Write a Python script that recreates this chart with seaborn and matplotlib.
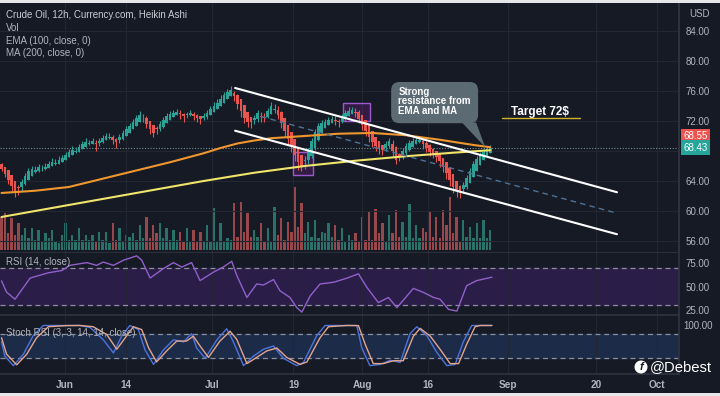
import numpy as np
import pandas as pd
import seaborn as sns
import matplotlib
matplotlib.use("Agg")
import matplotlib.pyplot as plt
from matplotlib.patches import FancyBboxPatch, Polygon, Rectangle, Ellipse
from matplotlib.transforms import blended_transform_factory

# ---------------- data ----------------
ha_close = [65.6, 64.9, 64.1, 63.3, 62.5, 63.1, 63.9, 64.7, 65.3, 65.6,
            65.4, 65.8, 65.6, 65.9, 66.3, 66.5, 66.4, 66.8, 67.0, 67.5,
            67.9, 68.1, 68.0, 68.5, 68.9, 69.2, 69.0, 69.3, 68.9, 69.3,
            69.7, 70.0, 69.9, 69.5, 69.2, 69.8, 70.4, 70.9, 71.3, 71.9,
            72.4, 72.8, 72.4, 71.6, 70.9, 70.4, 70.9, 71.6, 72.1, 72.6,
            72.9, 73.1, 73.2, 72.9, 72.6, 72.8, 73.0, 72.7, 72.4, 72.2,
            72.6, 73.1, 73.6, 74.0, 74.4, 74.9, 75.4, 75.8, 76.1, 75.3,
            74.3, 73.3, 72.4, 71.9, 71.8, 72.4, 73.0, 72.5, 72.4, 73.3,
            74.0, 73.6, 72.8, 71.7, 70.6, 69.6, 68.6, 67.5, 66.5, 65.9,
            66.8, 68.0, 69.3, 70.5, 71.3, 71.7, 71.9, 72.1, 72.3, 72.0,
            71.8, 72.5, 73.0, 73.3, 73.5, 73.1, 72.3, 71.5, 70.7, 69.9,
            69.2, 68.6, 68.2, 68.1, 68.9, 69.3, 68.0, 66.8, 67.3, 68.0,
            68.6, 69.0, 69.3, 69.4, 69.5, 68.9, 68.4, 67.9, 67.6, 67.2,
            66.6, 65.9, 65.0, 64.1, 63.2, 62.6, 62.4, 63.5, 64.4, 65.3,
            66.2, 66.9, 67.5, 67.9, 68.2, 68.43]
ha_high = [66.4, 65.9, 65.2, 64.4, 63.6, 63.4, 64.2, 65.1, 65.7, 66.0,
           66.0, 66.3, 66.1, 66.4, 66.7, 67.0, 66.9, 67.3, 67.4, 67.9,
           68.3, 68.6, 68.5, 68.9, 69.3, 69.7, 69.5, 69.7, 69.4, 69.7,
           70.1, 70.4, 70.4, 70.1, 69.7, 70.2, 70.8, 71.3, 71.7, 72.3,
           72.8, 73.3, 72.9, 72.6, 72.0, 71.4, 71.3, 72.0, 72.5, 73.0,
           73.3, 73.5, 73.6, 73.4, 73.1, 73.2, 73.4, 73.2, 72.9, 72.7,
           73.0, 73.5, 74.0, 74.5, 74.9, 75.4, 75.9, 76.2, 76.6, 76.0,
           75.6, 74.8, 73.9, 73.0, 72.5, 72.8, 73.4, 73.2, 73.0, 73.7,
           74.5, 74.2, 74.0, 73.3, 72.3, 71.2, 70.2, 69.2, 68.1, 67.1,
           67.3, 68.4, 69.7, 70.9, 71.7, 72.1, 72.3, 72.5, 72.7, 72.6,
           72.3, 72.9, 73.4, 73.8, 73.9, 73.7, 73.4, 72.8, 72.0, 71.2,
           70.4, 69.8, 69.2, 68.8, 69.3, 69.7, 69.4, 68.6, 67.7, 68.4,
           69.0, 69.4, 69.7, 69.8, 69.9, 69.6, 69.3, 68.9, 68.4, 68.0,
           67.6, 67.1, 66.5, 65.8, 64.9, 64.0, 63.4, 63.9, 64.8, 65.7,
           66.6, 67.3, 67.9, 68.3, 68.6, 68.8]
ha_low = [65.3, 64.5, 63.6, 62.7, 61.9, 62.1, 62.7, 63.4, 64.2, 64.9,
          65.0, 65.2, 65.3, 65.4, 65.7, 66.0, 66.1, 66.3, 66.5, 66.8,
          67.2, 67.6, 67.7, 67.9, 68.2, 68.6, 68.8, 68.9, 68.0, 68.7,
          69.0, 69.4, 69.6, 68.9, 68.4, 69.1, 69.4, 70.0, 70.6, 71.0,
          71.5, 72.0, 71.9, 71.0, 70.2, 69.8, 70.3, 70.6, 71.1, 71.7,
          72.2, 72.6, 72.8, 72.3, 71.9, 72.4, 72.6, 72.1, 71.8, 71.6,
          72.1, 72.3, 72.8, 73.3, 73.7, 74.1, 74.6, 75.1, 75.5, 74.7,
          73.6, 72.5, 71.7, 71.2, 71.1, 71.6, 71.9, 71.9, 71.8, 72.4,
          72.9, 73.0, 72.2, 71.0, 69.9, 68.9, 67.8, 66.6, 65.5, 65.3,
          65.6, 66.2, 67.0, 68.1, 69.3, 70.4, 71.1, 71.5, 71.8, 71.5,
          71.2, 71.7, 72.0, 72.6, 73.0, 72.5, 71.7, 70.8, 70.0, 69.2,
          68.5, 68.0, 67.6, 67.5, 68.0, 68.4, 67.2, 66.2, 66.6, 66.9,
          67.4, 68.0, 68.6, 69.0, 69.1, 68.3, 67.8, 67.3, 67.0, 66.5,
          65.9, 65.2, 64.2, 63.3, 62.4, 61.8, 61.7, 62.4, 62.9, 63.9,
          64.8, 65.7, 66.5, 67.2, 67.7, 68.0]
first_open = 66.2
volume = [33, 37, 17, 32, 15, 27, 15, 22, 12, 22,
          10, 20, 8, 17, 12, 20, 8, 7, 15, 27,
          10, 15, 10, 22, 10, 15, 10, 15, 8, 18,
          10, 18, 7, 27, 10, 22, 8, 15, 13, 17,
          10, 25, 12, 33, 12, 25, 17, 27, 12, 22,
          10, 20, 10, 18, 8, 22, 8, 20, 8, 18,
          8, 25, 8, 42, 8, 27, 8, 12, 10, 47,
          13, 48, 18, 37, 13, 20, 13, 27, 8, 22,
          8, 43, 15, 32, 10, 28, 18, 63, 23, 47,
          17, 28, 13, 30, 12, 18, 17, 27, 13, 25,
          10, 22, 8, 15, 10, 17, 8, 33, 10, 38,
          10, 41, 17, 27, 8, 35, 17, 40, 13, 28,
          13, 46, 12, 25, 12, 22, 18, 38, 13, 33,
          12, 40, 25, 53, 17, 33, 8, 30, 13, 23,
          12, 27, 12, 30, 12, 20]

ema_x = [0, 10, 20, 30, 40, 50, 55, 60, 65, 70, 75, 80, 90, 100, 110, 120, 130, 140, 145]
ema_y = [62.4, 62.7, 63.2, 64.3, 65.4, 66.5, 67.1, 67.7, 68.4, 69.0, 69.4, 69.7, 70.0, 70.3,
         70.4, 70.1, 69.5, 68.8, 68.5]
ma_x = [0, 15, 30, 45, 60, 75, 90, 105, 120, 135, 145]
ma_y = [59.2, 60.4, 61.6, 62.8, 64.0, 65.1, 66.0, 66.7, 67.3, 67.8, 68.1]

rsi_x = [0, 1.5, 4, 6.5, 8.5, 11.4, 13.9, 17.9, 20.3, 25.3, 28.2, 30.2, 33.2, 36.2, 40.1, 41.6,
         44.1, 48, 51, 53.5, 56.4, 58.9, 62.9, 65.8, 68.3, 69.8, 72.8, 75.7, 77.7, 80.7, 82.6,
         85.6, 87.6, 89.1, 91.6, 94.5, 98.5, 102.4, 105.9, 108.4, 111.8, 114.8, 117.3, 122.2,
         125.2, 128.2, 130.1, 132.6, 135.1, 138, 141, 145.5]
rsi_y = [56, 44, 36.5, 49, 59, 62, 64.6, 67, 72.5, 75.4, 72.5, 76, 72.5, 78, 82.6, 78,
         59, 69, 75.4, 70.7, 75.4, 56.3, 65.3, 70.7, 76.8, 61.7, 38.3, 52.7, 51.6, 57.4, 45.5,
         38.3, 27.5, 22.8, 40.1, 52.7, 54.5, 58.8, 63.5, 49.1, 32.9, 38.3, 27.5, 48,
         43.7, 38.3, 36.5, 25.7, 23.9, 50.9, 56.3, 59.9]

k_x = [0, 1.0, 3.5, 6.5, 9.4, 12.4, 19.3, 23.3, 26.3, 30.2, 33.2, 35.7, 38.1, 40.6, 42.6, 45.1,
       48.0, 51.0, 54.0, 56.4, 57.9, 60.4, 63.9, 66.8, 68.8, 71.8, 74.7, 77.7, 80.7, 83.6, 87.6,
       89.6, 93.5, 96.0, 105.4, 106.9, 109.3, 112.3, 115.3, 118.3, 121.2, 123.2, 126.2, 129.1,
       132.1, 134.6, 137.0, 139.5, 145.5]
k_y = [60, 25, 2, 30, 75, 100, 100, 100, 95, 65, 33, 75, 100, 90, 40, 5,
       40, 65, 60, 80, 45, 20, 65, 92, 60, 2, 25, 42, 50, 20, 2,
       10, 75, 100, 100, 45, 2, 5, 15, 10, 80, 97, 75, 35,
       2, 5, 60, 100, 100]
d_x = [0, 1.5, 4.5, 7.5, 10.4, 13.9, 19.3, 23.3, 27.2, 31.2, 34.2, 36.7, 39.1, 41.6, 43.6, 46.0,
       49.0, 52.0, 54.9, 56.9, 58.9, 61.4, 64.8, 67.8, 69.8, 72.8, 75.7, 78.7, 81.7, 84.6, 88.6,
       90.6, 94.5, 97.0, 102.4, 105.9, 107.9, 110.3, 113.3, 116.3, 119.2, 122.2, 124.2, 127.2,
       130.1, 133.1, 135.6, 138.0, 140.5, 142.0, 145.5]
d_y = [70, 30, 4, 30, 70, 97, 99.7, 100, 97, 78, 42, 70, 97, 90, 46, 11,
       38, 62, 62, 74, 50, 22, 62, 86, 66, 7, 22, 38, 45, 22, 5,
       11, 70, 97, 100, 99.7, 54, 7, 7, 14, 14, 74, 93, 74,
       42, 7, 7, 54, 97, 100, 100]

chan_x = [69.3, 182.6]
chan_upper = [76.4, 62.5]
chan_lower = [70.7, 56.9]
mid_x = [77.0, 182.6]
mid_y = [72.6, 59.7]
box1 = (86.5, 64.8, 92.4, 67.9)
box2 = (101.3, 72.0, 109.3, 74.4)
last_close = 68.43
last_price = 68.55
target_price = 72.4

date_ticks = [18.7, 36.8, 62.4, 86.6, 107.0, 126.4, 150.4, 176.5, 194.5]
date_labels = ["Jun", "14", "Jul", "19", "Aug", "16", "Sep", "20", "Oct"]
price_ticks = [56, 60, 64, 68, 72, 76, 80, 84]
price_labels = ["56.00", "60.00", "64.00", "", "72.00", "76.00", "80.00", "84.00"]

# ---------------- style ----------------
BG = "#161a25"
GRID = "#232733"
SEP = "#2f3340"
TXT = "#b2b5be"
TEAL = "#26a69a"
RED = "#ef5350"

sns.set_theme(style="dark", rc={"axes.facecolor": BG, "figure.facecolor": BG,
                                "axes.edgecolor": SEP, "text.color": TXT,
                                "xtick.color": TXT, "ytick.color": TXT})
plt.rcParams["font.family"] = ["Liberation Sans", "DejaVu Sans"]

W, H = 720, 396
fig = plt.figure(figsize=(7.2, 3.96), dpi=100, facecolor=BG)


def rect(top, bottom, left=0, right=679):
    return [left / W, 1 - bottom / H, (right - left) / W, (bottom - top) / H]


ax_v = fig.add_axes(rect(3, 252))
ax_p = fig.add_axes(rect(3, 252), sharex=ax_v)
ax_r = fig.add_axes(rect(252, 315), sharex=ax_v)
ax_s = fig.add_axes(rect(315, 374), sharex=ax_v)
ax_v.set_zorder(1)
ax_p.set_zorder(2)
ax_p.patch.set_alpha(0)

# ---- Heikin Ashi candles ----
c = np.array(ha_close)
o = [first_open]
for i in range(1, len(c)):
    o.append((o[-1] + c[i - 1]) / 2)
o = np.array(o)
hi = np.maximum(np.array(ha_high), np.maximum(o, c))
lo = np.minimum(np.array(ha_low), np.minimum(o, c))
idx = np.arange(len(c))
up = c >= o
cols = np.where(up, "#2aa396", "#e8554f")
ax_p.vlines(idx, lo, hi, colors=cols, lw=0.8, zorder=3)
body = np.maximum(np.abs(c - o), 0.1)
ax_p.bar(idx, body, bottom=np.minimum(o, c), width=0.78, color=cols, zorder=4, linewidth=0)

# ---- volume ----
vcols = np.where(up, "#287269", "#98474a")
ax_v.bar(idx, volume, width=0.7, color=vcols, linewidth=0)
ax_v.set_ylim(-2, 247)
ax_v.set_yticks([])

# ---- EMA / MA ----
sns.lineplot(x=ema_x, y=ema_y, ax=ax_p, color="#f0962e", lw=1.5, zorder=5)
sns.lineplot(x=ma_x, y=ma_y, ax=ax_p, color="#f1e46a", lw=1.5, zorder=5)

# ---- channel & annotations ----
ax_p.plot(chan_x, chan_upper, color="white", lw=1.5, zorder=6)
ax_p.plot(chan_x, chan_lower, color="white", lw=1.5, zorder=6)
ax_p.plot(mid_x, mid_y, color="#4f7196", lw=1.0, ls=(0, (4, 3)), zorder=6)
for (x0, y0, x1, y1) in (box1, box2):
    ax_p.add_patch(Rectangle((x0, y0), x1 - x0, y1 - y0, facecolor=(0.61, 0.15, 0.69, 0.22),
                             edgecolor="#9b59d0", lw=1.0, zorder=2))
ax_p.axhline(last_close, color="#6f8f91", lw=0.8, ls=(0, (1, 1.5)), zorder=2)

# callout
asp = (1 / 7.5) / (1 / 3.37)
ax_p.add_patch(FancyBboxPatch((115.6, 71.7), 25.8, 5.5,
                              boxstyle="round,pad=0,rounding_size=2.5",
                              mutation_aspect=asp, facecolor="#5b6a73", edgecolor="none", zorder=7))
ax_p.add_patch(Polygon([(136.6, 71.8), (140.8, 71.8), (143.5, 68.5)], closed=True,
                       facecolor="#5b6a73", edgecolor="none", zorder=7))
ax_p.text(117.7, 76.55, "Strong\nresistance from\nEMA and MA", color="white", fontsize=7,
          fontweight="bold", va="top", ha="left", linespacing=0.95, zorder=8)
ax_p.text(159.8, 73.15, "Target 72$", color="white", fontsize=8.5, fontweight="bold",
          ha="center", va="center", zorder=8)
ax_p.plot([148.5, 171.7], [target_price, target_price], color="#d2b12a", lw=1.0, zorder=8)

# last price labels
tb = blended_transform_factory(ax_p.transAxes, ax_p.transData)
ax_p.text(1.006, 70.0, f"{last_price:.2f}", transform=tb, color="white", fontsize=7,
          va="center", ha="left", zorder=9, clip_on=False,
          bbox=dict(boxstyle="square,pad=0.25", fc=RED, ec="none"))
ax_p.text(1.006, 68.45, f"{last_close:.2f}", transform=tb, color="white", fontsize=7,
          va="center", ha="left", zorder=9, clip_on=False,
          bbox=dict(boxstyle="square,pad=0.25", fc=TEAL, ec="none"))

ax_p.set_ylim(54.53, 87.73)
ax_p.set_yticks(price_ticks, price_labels)

# ---- RSI ----
ax_r.axhspan(30, 70, color="#2a1d47", zorder=0)
ax_r.axhline(70, color="#8d8f9c", lw=0.9, ls=(0, (4, 3)))
ax_r.axhline(30, color="#8d8f9c", lw=0.9, ls=(0, (4, 3)))
sns.lineplot(x=rsi_x, y=rsi_y, ax=ax_r, color="#9160cc", lw=1.0)
ax_r.set_ylim(19.7, 86.7)
ax_r.set_yticks([25, 50, 75], ["25.00", "50.00", "75.00"])

# ---- Stoch RSI ----
ax_s.axhspan(20, 80, color="#1b2b48", zorder=0)
ax_s.axhline(80, color="#8d8f9c", lw=0.9, ls=(0, (4, 3)))
ax_s.axhline(20, color="#8d8f9c", lw=0.9, ls=(0, (4, 3)))
sns.lineplot(x=k_x, y=k_y, ax=ax_s, color="#4c74dc", lw=1.0)
sns.lineplot(x=d_x, y=d_y, ax=ax_s, color="#e3a48f", lw=1.0)
ax_s.set_ylim(-18.4, 125.6)
ax_s.set_yticks([100], ["100.00"])

# ---- axes cosmetics ----
for a in (ax_v, ax_p, ax_r, ax_s):
    a.set_xlim(-0.45, 201.0)
    a.set_xticks(date_ticks)
    a.grid(axis="x", color=GRID, lw=0.8)
    a.set_xlabel("")
    a.set_ylabel("")
    for s in ("left", "bottom", "top"):
        a.spines[s].set_visible(False)
    a.spines["right"].set_color(SEP)
    a.tick_params(axis="both", length=0, labelsize=7, colors=TXT)
    a.yaxis.tick_right()
ax_p.grid(axis="y", color=GRID, lw=0.8)
ax_p.set_axisbelow(True)
ax_v.grid(axis="y", visible=False)
for a in (ax_v, ax_p, ax_r):
    a.tick_params(labelbottom=False)
ax_r.spines["top"].set_visible(True)
ax_s.spines["top"].set_visible(True)
ax_s.spines["bottom"].set_visible(True)
ax_s.set_xticks(date_ticks, date_labels)
ax_s.tick_params(axis="x", pad=4, labelsize=7.2)
for t in ax_s.get_xticklabels():
    t.set_fontweight("bold")
ax_p.tick_params(axis="y", pad=5)
ax_r.tick_params(axis="y", pad=5)
ax_s.tick_params(axis="y", pad=3)

# ---- texts ----
def px_text(x, y, s, **kw):
    fig.text(x / W, 1 - y / H, s, **kw)

px_text(6, 15, "Crude Oil, 12h, Currency.com, Heikin Ashi", color="#c9ccd3", fontsize=7, va="center")
px_text(6, 28, "Vol", color=TXT, fontsize=7, va="center")
px_text(6, 41, "EMA (100, close, 0)", color=TXT, fontsize=7, va="center")
px_text(6, 53, "MA (200, close, 0)", color=TXT, fontsize=7, va="center")
px_text(6, 262, "RSI (14, close)", color=TXT, fontsize=7, va="center")
px_text(6, 333, "Stoch RSI (3, 3, 14, 14, close)", color=TXT, fontsize=7, va="center")
px_text(700, 14, "USD", color=TXT, fontsize=7, va="center", ha="center")

# watermark
fig.add_artist(Ellipse((641 / W, 1 - 367 / H), 13 / W, 13 / H, transform=fig.transFigure,
                       facecolor="white", edgecolor="none", zorder=20))
px_text(641, 367, "f", color=BG, fontsize=8, fontweight="bold", style="italic",
        ha="center", va="center", zorder=21)
px_text(650, 367, "@Debest", color="white", fontsize=10.7, va="center", ha="left", zorder=21)

# light frame strips
fig.add_artist(Rectangle((0, 1 - 3 / H), 1, 3 / H, transform=fig.transFigure,
                         facecolor="#e6e7ea", edgecolor="none", zorder=30))
fig.add_artist(Rectangle((0, 0), 1, 3 / H, transform=fig.transFigure,
                         facecolor="#e6e7ea", edgecolor="none", zorder=30))

fig.savefig("out.png", dpi=100, facecolor=BG)
